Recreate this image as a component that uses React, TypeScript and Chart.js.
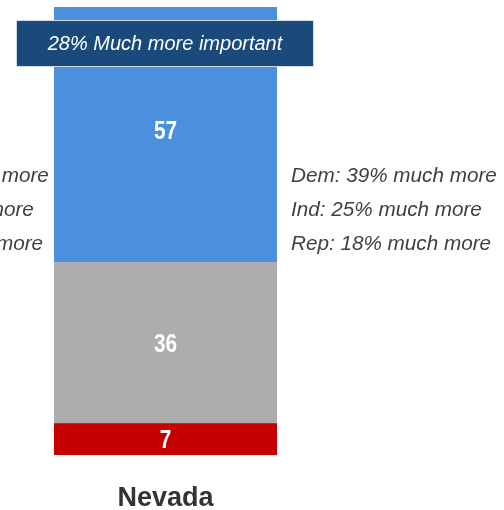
import React, { useEffect, useRef } from "react";
import { Chart, registerables } from "chart.js";

Chart.register(...registerables);

const categories = ["Nevada"];
const seriesNames = ["Much/somewhat more important", "Equally important", "Less important"];
const muchMore = [57];
const equally = [36];
const less = [7];
const calloutText = "28% Much more important";
const rightNotes = ["Dem: 39% much more", "Ind: 25% much more", "Rep: 18% much more"];
const leftNotes = ["Dem: 39% much more", "Ind: 24% much more", "Rep: 18% much more"];

const BLUE = "#4a90dc";
const GRAY = "#adadad";
const RED = "#c40000";
const NAVY = "#1a4a7c";
const TEXT = "#404040";

const annotations = {
  id: "annotations",
  afterDatasetsDraw(chart: any) {
    const { ctx, chartArea, scales } = chart;
    const y = scales.y;
    const bar = chart.getDatasetMeta(0).data[0];
    const left = bar.x - bar.width / 2;
    const right = bar.x + bar.width / 2;
    ctx.save();
    // segment values (narrowed to mimic a condensed face)
    ctx.fillStyle = "#ffffff";
    ctx.font = "bold 26px 'Liberation Sans', Arial, sans-serif";
    ctx.textAlign = "center";
    ctx.textBaseline = "middle";
    let base = 0;
    const segs = [less[0], equally[0], muchMore[0]];
    segs.forEach((v, i) => {
      const mid = y.getPixelForValue(base + v / 2);
      const nudge = i === segs.length - 1 ? -2.5 : 1.5;
      ctx.save();
      ctx.translate(bar.x, mid + nudge);
      ctx.scale(0.8, 1);
      ctx.fillText(String(v), 0, 0);
      ctx.restore();
      base += v;
    });
    // callout box
    const bx0 = left - 38;
    const bx1 = right + 37;
    const by0 = chartArea.top + 13;
    const by1 = chartArea.top + 60;
    ctx.fillStyle = NAVY;
    ctx.fillRect(bx0, by0, bx1 - bx0, by1 - by0);
    ctx.strokeStyle = "rgba(255,255,255,0.8)";
    ctx.lineWidth = 1;
    ctx.strokeRect(bx0 + 0.5, by0 + 0.5, bx1 - bx0 - 1, by1 - by0 - 1);
    ctx.fillStyle = "#ffffff";
    ctx.font = "italic 20px 'Liberation Sans', Arial, sans-serif";
    ctx.fillText(calloutText, (bx0 + bx1) / 2, (by0 + by1) / 2 + 1);
    // side notes
    ctx.fillStyle = TEXT;
    ctx.font = "italic 20.7px 'Liberation Sans', Arial, sans-serif";
    ctx.textAlign = "left";
    const firstY = y.getPixelForValue(62.3);
    rightNotes.forEach((t, i) => {
      ctx.fillText(t, right + 14, firstY + i * 34);
    });
    leftNotes.forEach((t, i) => {
      ctx.fillText(t, left - 211, firstY + i * 34);
    });
    ctx.restore();
  },
};

export default function App() {
  const ref = useRef<HTMLCanvasElement | null>(null);
  useEffect(() => {
    if (!ref.current) return;
    const chart = new Chart(ref.current, {
      type: "bar",
      data: {
        labels: categories,
        datasets: [
          { label: seriesNames[2], data: less, backgroundColor: RED },
          { label: seriesNames[1], data: equally, backgroundColor: GRAY },
          { label: seriesNames[0], data: muchMore, backgroundColor: BLUE },
        ],
      },
      options: {
        animation: false,
        responsive: false,
        maintainAspectRatio: false,
        layout: { padding: { left: 54, right: 227, top: 7, bottom: -32 } },
        datasets: { bar: { barPercentage: 1, categoryPercentage: 1 } },
        plugins: { legend: { display: false }, tooltip: { enabled: false } },
        scales: {
          x: {
            stacked: true,
            grid: { display: false, drawTicks: false },
            border: { display: false },
            ticks: {
              color: "#333333",
              padding: 30,
              font: { family: "'Liberation Sans', Arial, sans-serif", size: 27, weight: "bold", lineHeight: 1 },
            },
          },
          y: {
            stacked: true,
            display: false,
            min: 0,
            max: 100,
          },
        },
      },
      plugins: [annotations],
    });
    return () => chart.destroy();
  }, []);
  return (
    <div style={{ position: "fixed", left: 0, top: 0, width: 504, height: 510, background: "#fff" }}>
      <canvas ref={ref} width={504} height={510} style={{ width: 504, height: 510 }} />
    </div>
  );
}
